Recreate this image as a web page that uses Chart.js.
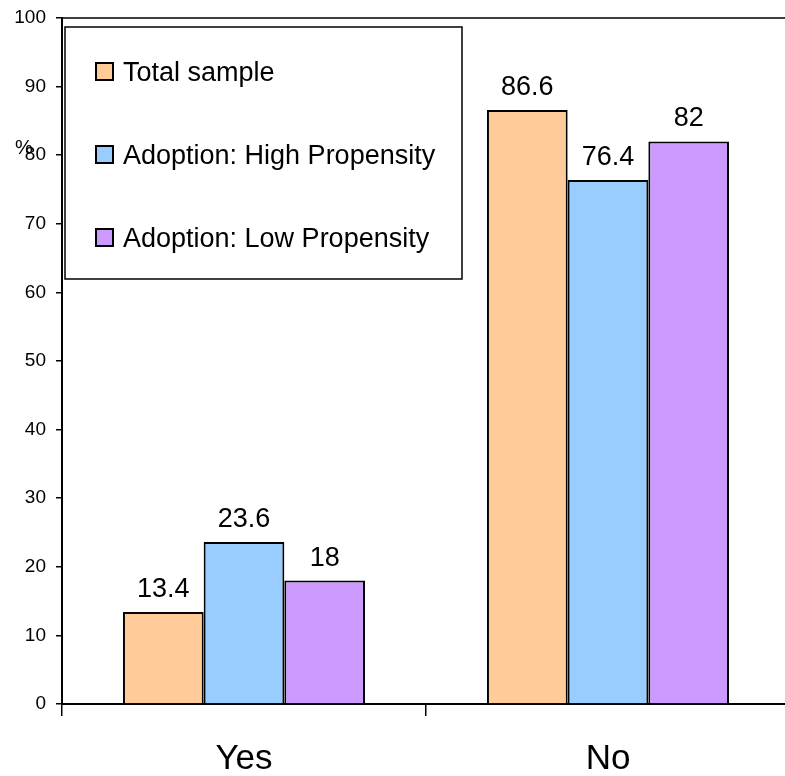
<!DOCTYPE html>
<html>
<head>
<meta charset="utf-8">
<script src="https://cdn.jsdelivr.net/npm/chart.js@4/dist/chart.umd.min.js"></script>
<style>
  html, body { margin: 0; padding: 0; background: #fff; overflow: hidden; }
  #wrap { width: 790px; height: 776px; }
</style>
</head>
<body>
<div id="wrap"><canvas id="c" width="790" height="776"></canvas></div>
<script>
// Answers by group, in percent
const categories = ['Yes', 'No'];
const totalSample = [13.4, 86.6];
const highPropensity = [23.6, 76.4];
const lowPropensity = [18, 82];
const seriesNames = ['Total sample', 'Adoption: High Propensity', 'Adoption: Low Propensity'];
const seriesColors = ['#FFCC99', '#99CCFF', '#CC99FF'];
const yTicks = [0, 10, 20, 30, 40, 50, 60, 70, 80, 90, 100];
const yUnit = '%';

const FONT = 'Liberation Sans, Arial, sans-serif';

// Value labels above each bar
const valueLabels = {
  id: 'valueLabels',
  afterDatasetsDraw(chart) {
    const ctx = chart.ctx;
    ctx.save();
    ctx.font = '27px ' + FONT;
    ctx.fillStyle = '#000';
    ctx.textAlign = 'center';
    ctx.textBaseline = 'alphabetic';
    chart.data.datasets.forEach((ds, i) => {
      chart.getDatasetMeta(i).data.forEach((bar, j) => {
        ctx.fillText(String(ds.data[j]), bar.x, bar.y - 15);
      });
    });
    ctx.restore();
  }
};

// Boxed legend inside the plot area, plus the top frame line and unit label
const frameAndLegend = {
  id: 'frameAndLegend',
  afterDraw(chart) {
    const ctx = chart.ctx;
    const area = chart.chartArea;
    const y = chart.scales.y;
    ctx.save();
    // top frame line of the plot area
    ctx.strokeStyle = '#000';
    ctx.lineWidth = 1.5;
    ctx.beginPath();
    ctx.moveTo(area.left, area.top);
    ctx.lineTo(area.right, area.top);
    ctx.stroke();

    // unit label next to the value axis
    ctx.font = '20px ' + FONT;
    ctx.fillStyle = '#000';
    ctx.textAlign = 'center';
    ctx.textBaseline = 'middle';
    ctx.fillText(yUnit, 24, y.getPixelForValue(81));

    // legend box
    const bx = area.left + 3, by = area.top + 9, bw = 397, bh = 252;
    ctx.fillStyle = '#fff';
    ctx.fillRect(bx, by, bw, bh);
    ctx.lineWidth = 1.5;
    ctx.strokeRect(bx, by, bw, bh);

    ctx.font = '27px ' + FONT;
    ctx.textAlign = 'left';
    ctx.textBaseline = 'middle';
    chart.data.datasets.forEach((ds, i) => {
      const cy = by + 45 + i * 83;
      ctx.fillStyle = ds.backgroundColor;
      ctx.fillRect(bx + 31, cy - 9, 17, 17);
      ctx.strokeStyle = '#000';
      ctx.lineWidth = 2;
      ctx.strokeRect(bx + 31, cy - 9, 17, 17);
      ctx.fillStyle = '#000';
      ctx.fillText(ds.label, bx + 58, cy + 2);
    });
    ctx.restore();
  }
};

const seriesData = [totalSample, highPropensity, lowPropensity];

new Chart(document.getElementById('c'), {
  type: 'bar',
  data: {
    labels: categories,
    datasets: seriesNames.map((name, i) => ({
      label: name,
      data: seriesData[i],
      backgroundColor: seriesColors[i],
      borderColor: '#000',
      borderWidth: 2,
      borderSkipped: 'bottom',
      categoryPercentage: 0.665,
      barPercentage: 1.0
    }))
  },
  options: {
    responsive: false,
    animation: false,
    events: [],
    layout: { padding: { top: 18, left: 0, right: 0, bottom: 0 } },
    plugins: {
      legend: { display: false },
      tooltip: { enabled: false }
    },
    scales: {
      x: {
        type: 'category',
        grid: {
          offset: true,
          drawOnChartArea: false,
          drawTicks: true,
          tickLength: 12,
          color: '#000',
          lineWidth: 1.5
        },
        border: { display: true, color: '#000', width: 2 },
        ticks: {
          color: '#000',
          font: { family: FONT, size: 35 },
          padding: 22
        },
        afterFit(scale) {
          scale.height = 72;
          scale.paddingLeft = 0;
          scale.paddingRight = 0;
        }
      },
      y: {
        min: yTicks[0],
        max: yTicks[yTicks.length - 1],
        afterBuildTicks(scale) { scale.ticks = yTicks.map(v => ({ value: v })); },
        grid: {
          drawOnChartArea: false,
          drawTicks: true,
          tickLength: 6,
          color: '#000',
          lineWidth: 1.5
        },
        border: { display: true, color: '#000', width: 2 },
        ticks: {
          color: '#000',
          font: { family: FONT, size: 19 },
          padding: 10
        },
        afterFit(scale) {
          scale.width = 62;
          scale.paddingTop = 0;
          scale.paddingBottom = 0;
        }
      }
    }
  },
  plugins: [valueLabels, frameAndLegend]
});
</script>
</body>
</html>
